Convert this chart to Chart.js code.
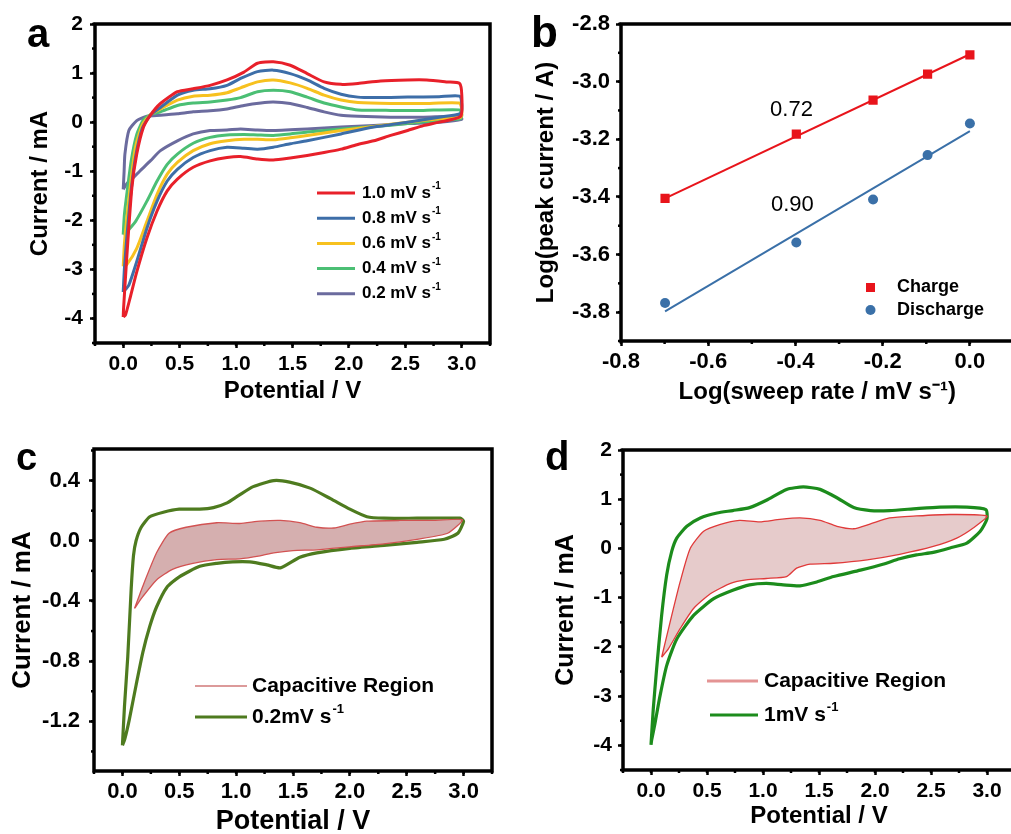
<!DOCTYPE html>
<html><head><meta charset="utf-8">
<script src="https://cdn.jsdelivr.net/npm/chart.js@4.4.1/dist/chart.umd.min.js"></script>
<style>
html,body{margin:0;padding:0;background:#fff;overflow:hidden;width:1011px;height:834px;position:relative;}
canvas{position:absolute;}
</style></head><body>
<canvas id="ca" width="500" height="420" style="left:0;top:0;width:500px;height:420px"></canvas>
<canvas id="cb" width="520" height="420" style="left:500px;top:0;width:520px;height:420px"></canvas>
<canvas id="cc" width="500" height="440" style="left:0;top:420px;width:500px;height:440px"></canvas>
<canvas id="cd" width="520" height="414" style="left:500px;top:420px;width:520px;height:414px"></canvas>
<script>
// ---------- tick labels ----------
const potTicks = [0, 0.5, 1.0, 1.5, 2.0, 2.5, 3.0];
const aYTicks = [-4, -3, -2, -1, 0, 1, 2];
const bXTicks = [-0.8, -0.6, -0.4, -0.2, 0.0];
const bYTicks = [-3.8, -3.6, -3.4, -3.2, -3.0, -2.8];
const cYTicks = [-1.2, -0.8, -0.4, 0.0, 0.4];
const dYTicks = [-4, -3, -2, -1, 0, 1, 2];

// ---------- Panel a: CV curves at different sweep rates (Potential V, Current mA) ----------
const aRates = ['1.0', '0.8', '0.6', '0.4', '0.2'];
const aColors = ['#e8202a', '#3d6ea8', '#f7c11f', '#4bbf74', '#6b6b9e'];
const cv10 = [[0,-3.97],[0.003,-3.8],[0.033,-2.7],[0.077,-1.33],[0.12,-0.65],[0.18,-0.1],[0.24,0.14],[0.33,0.38],[0.48,0.62],[0.62,0.68],[0.77,0.75],[0.92,0.86],[1.07,1.02],[1.19,1.2],[1.33,1.23],[1.48,1.16],[1.63,0.99],[1.78,0.82],[1.93,0.77],[2.08,0.79],[2.28,0.84],[2.52,0.86],[2.69,0.86],[2.87,0.82],[2.98,0.79],[3.0,0.55],[2.99,0.12],[2.8,0.0],[2.66,-0.07],[2.52,-0.17],[2.37,-0.27],[2.22,-0.38],[2.07,-0.46],[1.93,-0.55],[1.78,-0.62],[1.63,-0.68],[1.48,-0.73],[1.33,-0.77],[1.19,-0.75],[1.04,-0.7],[0.92,-0.72],[0.77,-0.79],[0.62,-0.92],[0.48,-1.16],[0.39,-1.4],[0.3,-1.81],[0.21,-2.36],[0.12,-3.05],[0.06,-3.59],[0.02,-3.93],[0,-3.97]];
const cv08 = [[0,-3.46],[0.01,-3.0],[0.03,-2.4],[0.07,-1.4],[0.11,-0.7],[0.17,-0.12],[0.24,0.14],[0.33,0.3],[0.48,0.55],[0.62,0.65],[0.77,0.68],[0.92,0.75],[1.04,0.89],[1.19,1.03],[1.33,1.06],[1.48,0.99],[1.63,0.86],[1.78,0.69],[1.93,0.57],[2.08,0.51],[2.22,0.5],[2.52,0.51],[2.8,0.52],[2.98,0.53],[3.0,0.35],[2.99,0.18],[2.8,0.1],[2.52,0.0],[2.22,-0.1],[1.93,-0.24],[1.63,-0.38],[1.48,-0.44],[1.33,-0.51],[1.19,-0.55],[1.07,-0.53],[0.92,-0.51],[0.77,-0.58],[0.62,-0.72],[0.48,-0.96],[0.39,-1.2],[0.3,-1.61],[0.21,-2.16],[0.12,-2.84],[0.05,-3.32],[0,-3.46]];
const cv06 = [[0,-2.94],[0.01,-2.5],[0.03,-2.0],[0.07,-1.15],[0.11,-0.5],[0.17,-0.05],[0.24,0.15],[0.33,0.27],[0.48,0.45],[0.62,0.53],[0.77,0.55],[0.92,0.6],[1.04,0.7],[1.19,0.82],[1.33,0.86],[1.48,0.8],[1.63,0.69],[1.78,0.55],[1.93,0.45],[2.08,0.4],[2.37,0.38],[2.66,0.38],[2.98,0.39],[3.0,0.25],[2.99,0.1],[2.8,0.07],[2.52,0.0],[2.22,-0.09],[1.93,-0.17],[1.63,-0.27],[1.48,-0.32],[1.33,-0.36],[1.19,-0.35],[1.07,-0.35],[0.92,-0.38],[0.77,-0.44],[0.62,-0.58],[0.48,-0.82],[0.39,-1.06],[0.3,-1.47],[0.21,-2.02],[0.12,-2.57],[0.03,-2.91],[0,-2.94]];
const cv04 = [[0,-2.29],[0.01,-1.9],[0.03,-1.5],[0.07,-0.8],[0.12,-0.25],[0.18,0.05],[0.24,0.15],[0.33,0.21],[0.48,0.34],[0.62,0.39],[0.77,0.41],[0.92,0.45],[1.04,0.5],[1.19,0.62],[1.33,0.65],[1.48,0.62],[1.63,0.51],[1.78,0.39],[1.93,0.31],[2.08,0.25],[2.37,0.24],[2.66,0.24],[2.98,0.25],[3.0,0.15],[2.99,0.07],[2.8,0.04],[2.52,-0.03],[2.22,-0.09],[1.93,-0.14],[1.63,-0.2],[1.48,-0.24],[1.33,-0.27],[1.19,-0.26],[1.07,-0.25],[0.92,-0.26],[0.77,-0.31],[0.62,-0.43],[0.48,-0.65],[0.39,-0.86],[0.3,-1.2],[0.21,-1.61],[0.11,-2.02],[0.02,-2.26],[0,-2.29]];
const cv02 = [[0,-1.37],[0.008,-1.0],[0.015,-0.65],[0.05,-0.17],[0.12,0.03],[0.21,0.12],[0.33,0.14],[0.48,0.17],[0.62,0.21],[0.77,0.23],[0.92,0.27],[1.07,0.34],[1.22,0.39],[1.33,0.41],[1.48,0.38],[1.63,0.3],[1.78,0.21],[1.93,0.14],[2.08,0.12],[2.37,0.1],[2.66,0.1],[2.98,0.12],[3.0,0.06],[2.8,0.0],[2.52,-0.03],[2.22,-0.07],[1.93,-0.1],[1.63,-0.14],[1.33,-0.17],[1.19,-0.16],[1.04,-0.14],[0.92,-0.16],[0.77,-0.17],[0.62,-0.24],[0.48,-0.38],[0.33,-0.58],[0.24,-0.79],[0.15,-0.99],[0.09,-1.13],[0.03,-1.26],[0,-1.37]];
const aCurves = [cv10, cv08, cv06, cv04, cv02];

// ---------- Panel b: log(peak current) vs log(sweep rate) ----------
const bLogRate = [-0.699, -0.398, -0.222, -0.097, 0.0];
const bCharge = [-3.405, -3.182, -3.064, -2.974, -2.907];
const bDischarge = [-3.768, -3.558, -3.409, -3.255, -3.145];
const bFitCharge = [[-0.699, -3.405], [0.0, -2.905]];
const bFitDischarge = [[-0.699, -3.797], [0.0, -3.172]];
const bSlopes = [['0.72', -0.409, -3.099], ['0.90', -0.407, -3.428]];

// ---------- Panel c: 0.2 mV/s CV with capacitive region ----------
const cCV = [[0,-1.36],[0.018,-1.1],[0.047,-0.77],[0.077,-0.32],[0.097,-0.1],[0.12,0.0],[0.165,0.09],[0.24,0.16],[0.36,0.19],[0.5,0.21],[0.68,0.21],[0.8,0.22],[0.915,0.25],[1.02,0.3],[1.15,0.36],[1.33,0.4],[1.47,0.39],[1.65,0.35],[1.83,0.28],[2.0,0.21],[2.15,0.16],[2.3,0.15],[2.59,0.15],[2.97,0.15],[3.0,0.13],[2.95,0.05],[2.83,0.01],[2.59,-0.01],[2.3,-0.03],[2.0,-0.05],[1.71,-0.08],[1.56,-0.11],[1.39,-0.18],[1.27,-0.16],[1.12,-0.14],[0.97,-0.14],[0.83,-0.15],[0.68,-0.17],[0.5,-0.24],[0.39,-0.31],[0.3,-0.44],[0.24,-0.57],[0.18,-0.74],[0.12,-0.96],[0.06,-1.19],[0.02,-1.32],[0,-1.36]];
const cCap = [[0.106,-0.45],[0.18,-0.3],[0.3,-0.08],[0.41,0.05],[0.56,0.09],[0.83,0.12],[1.03,0.115],[1.21,0.13],[1.39,0.135],[1.56,0.12],[1.71,0.09],[1.86,0.085],[2.0,0.11],[2.15,0.13],[2.44,0.135],[2.74,0.135],[2.99,0.14],[2.86,0.05],[2.59,0.01],[2.3,-0.02],[2.0,-0.04],[1.71,-0.06],[1.5,-0.065],[1.33,-0.08],[1.21,-0.1],[1.03,-0.12],[0.83,-0.125],[0.62,-0.15],[0.44,-0.19],[0.3,-0.26],[0.18,-0.37],[0.106,-0.45]];

// ---------- Panel d: 1 mV/s CV with capacitive region ----------
const dCV = [[0,-3.99],[0.02,-3.27],[0.05,-2.45],[0.095,-1.36],[0.14,-0.54],[0.185,-0.06],[0.23,0.21],[0.32,0.45],[0.44,0.62],[0.59,0.72],[0.73,0.77],[0.88,0.83],[1.03,0.98],[1.21,1.2],[1.36,1.25],[1.51,1.2],[1.66,1.03],[1.81,0.83],[1.96,0.77],[2.13,0.77],[2.37,0.81],[2.58,0.84],[2.82,0.84],[2.99,0.79],[3.0,0.6],[2.94,0.35],[2.82,0.11],[2.67,0.01],[2.52,-0.08],[2.37,-0.13],[2.22,-0.21],[2.07,-0.32],[1.87,-0.44],[1.63,-0.57],[1.48,-0.68],[1.33,-0.76],[1.18,-0.74],[1.03,-0.71],[0.88,-0.74],[0.73,-0.85],[0.56,-1.02],[0.38,-1.36],[0.23,-1.84],[0.14,-2.38],[0.08,-3.0],[0.036,-3.55],[0.006,-3.89],[0,-3.99]];
const dCap = [[0.095,-2.21],[0.17,-1.5],[0.26,-0.68],[0.35,0.0],[0.47,0.35],[0.62,0.49],[0.79,0.57],[0.97,0.54],[1.15,0.59],[1.33,0.62],[1.51,0.57],[1.66,0.45],[1.81,0.4],[1.96,0.5],[2.13,0.62],[2.37,0.66],[2.67,0.69],[3.0,0.66],[2.88,0.42],[2.73,0.21],[2.52,0.04],[2.22,-0.12],[1.93,-0.23],[1.63,-0.3],[1.42,-0.32],[1.3,-0.4],[1.21,-0.57],[1.03,-0.61],[0.85,-0.64],[0.71,-0.71],[0.53,-0.92],[0.38,-1.22],[0.26,-1.63],[0.155,-2.04],[0.095,-2.21]];

// ---------- helpers ----------
const FONT = '"Liberation Sans", Arial, Helvetica, sans-serif';
Chart.defaults.font.family = FONT;
Chart.defaults.color = '#000';
const pts = arr => arr.map(p => ({x: p[0], y: p[1]}));
const fmt = (v, d) => (Math.abs(v) < 1e-9 ? 0 : v).toFixed(d);

const minorTicks = {
  id: 'minorTicks',
  afterDraw(chart, args, o) {
    const {ctx, chartArea: a, scales: {x, y}} = chart;
    ctx.save(); ctx.strokeStyle = '#000'; ctx.lineWidth = 2.5;
    const L = 3;
    if (o && o.x) for (let k = Math.ceil(x.min / o.x - 1e-9); k * o.x <= x.max + 1e-9; k++) {
      const p = x.getPixelForValue(k * o.x);
      ctx.beginPath(); ctx.moveTo(p, a.bottom); ctx.lineTo(p, a.bottom + L); ctx.stroke();
    }
    if (o && o.y) for (let k = Math.ceil(y.min / o.y - 1e-9); k * o.y <= y.max + 1e-9; k++) {
      const p = y.getPixelForValue(k * o.y);
      ctx.beginPath(); ctx.moveTo(a.left, p); ctx.lineTo(a.left - L, p); ctx.stroke();
    }
    ctx.restore();
  }
};
const frame = {
  id: 'frame',
  afterDraw(chart) {
    const {ctx, chartArea: a} = chart;
    ctx.save(); ctx.strokeStyle = '#000'; ctx.lineWidth = 3.5;
    ctx.strokeRect(a.left, a.top, a.right - a.left, a.bottom - a.top);
    ctx.restore();
  }
};
function supText(ctx, main, sup, x, y, size) {
  ctx.font = 'bold ' + size + 'px ' + FONT;
  ctx.textAlign = 'left'; ctx.textBaseline = 'middle';
  ctx.fillText(main, x, y);
  const w = ctx.measureText(main).width;
  if (sup) {
    ctx.font = 'bold ' + Math.round(size * 0.6) + 'px ' + FONT;
    ctx.fillText(sup, x + w + 1, y - size * 0.38);
  }
}
function letter(ctx, t, x, y, size) {
  ctx.save(); ctx.fillStyle = '#000';
  ctx.font = 'bold ' + size + 'px ' + FONT;
  ctx.textAlign = 'left'; ctx.textBaseline = 'alphabetic';
  ctx.fillText(t, x, y); ctx.restore();
}

function panel(id, P) {
  return new Chart(document.getElementById(id), {
    type: 'scatter',
    data: {datasets: P.datasets},
    options: {
      responsive: false, animation: false, devicePixelRatio: 1,
      layout: {padding: {left: 0, top: P.area.t, right: P.W - P.area.r, bottom: 0}},
      plugins: {legend: {display: false}, tooltip: {enabled: false}, minorTicks: P.minor},
      elements: {line: {tension: 0.2}},
      scales: {
        x: {
          type: 'linear', position: 'bottom', min: P.x.min, max: P.x.max,
          afterBuildTicks(s) { s.ticks = P.x.ticks.map(v => ({value: v})); },
          afterFit(s) { s.height = P.H - P.area.b; },
          border: {display: false},
          grid: {drawOnChartArea: false, tickLength: 5, tickWidth: 2.5, tickColor: '#000'},
          ticks: {padding: P.x.pad, color: '#000', autoSkip: false, maxRotation: 0,
                  font: {size: P.x.size, weight: 'bold'}, callback: v => fmt(v, P.x.dec)},
          title: {display: true, text: P.x.title, color: '#000', font: {size: P.x.tsize, weight: 'bold'}, padding: {top: 0, bottom: P.x.tpad}}
        },
        y: {
          type: 'linear', position: 'left', min: P.y.min, max: P.y.max,
          afterBuildTicks(s) { s.ticks = P.y.ticks.map(v => ({value: v})); },
          afterFit(s) { s.width = P.area.l; },
          border: {display: false},
          grid: {drawOnChartArea: false, tickLength: 5, tickWidth: 2.5, tickColor: '#000'},
          ticks: {padding: P.y.pad, color: '#000', autoSkip: false,
                  font: {size: P.y.size, weight: 'bold'}, callback: v => fmt(v, P.y.dec)},
          title: {display: true, text: P.y.title, color: '#000', font: {size: P.y.tsize, weight: 'bold'}, padding: {top: P.y.tpad, bottom: 0}}
        }
      }
    },
    plugins: [minorTicks, frame, {id: 'deco', afterDraw: c => P.deco(c.ctx, c)}]
  });
}

// ---------- Panel a ----------
panel('ca', {
  W: 500, H: 420, area: {l: 95, t: 24, r: 490, b: 343},
  x: {min: -0.25, max: 3.25, ticks: potTicks, dec: 1, size: 21, pad: 4, title: 'Potential / V', tsize: 24, tpad: 14},
  y: {min: -4.5, max: 2, ticks: aYTicks, dec: 0, size: 21, pad: 7, title: 'Current / mA', tsize: 24, tpad: 26},
  minor: {x: 0.25, y: 0.5},
  datasets: aCurves.map((c, i) => ({label: aRates[i] + ' mV s-1', data: pts(c), showLine: true, pointRadius: 0,
    borderColor: aColors[i], borderWidth: 3, fill: false})),
  deco(ctx) {
    letter(ctx, 'a', 27, 47, 40);
    ctx.save();
    aRates.forEach((r, i) => {
      const y = 193 + i * 25.2;
      ctx.strokeStyle = aColors[i]; ctx.lineWidth = 3;
      ctx.beginPath(); ctx.moveTo(317, y); ctx.lineTo(355, y); ctx.stroke();
      ctx.fillStyle = '#000';
      supText(ctx, r + ' mV s', '-1', 362, y, 17);
    });
    ctx.restore();
  }
});

// ---------- Panel b ----------
panel('cb', {
  W: 520, H: 420, area: {l: 121, t: 24, r: 515, b: 341},
  x: {min: -0.8, max: 0.1, ticks: bXTicks, dec: 1, size: 22, pad: 3, title: 'Log(sweep rate / mV s\u207B\u00B9)', tsize: 24, tpad: 13},
  y: {min: -3.9, max: -2.8, ticks: bYTicks, dec: 1, size: 22, pad: 6, title: 'Log(peak current / A)', tsize: 24, tpad: 32},
  minor: {x: 0.1, y: 0.1},
  datasets: [
    {label: 'Charge', data: bLogRate.map((x, i) => ({x, y: bCharge[i]})), pointStyle: 'rect', pointRadius: 6.5,
     backgroundColor: '#e8141b', borderColor: '#e8141b', borderWidth: 0},
    {label: 'Discharge', data: bLogRate.map((x, i) => ({x, y: bDischarge[i]})), pointStyle: 'circle', pointRadius: 5,
     backgroundColor: '#3a70a8', borderColor: '#3a70a8', borderWidth: 0},
    {label: 'fitC', data: pts(bFitCharge), showLine: true, pointRadius: 0, borderColor: '#e8141b', borderWidth: 2, tension: 0},
    {label: 'fitD', data: pts(bFitDischarge), showLine: true, pointRadius: 0, borderColor: '#3a70a8', borderWidth: 2, tension: 0}
  ],
  deco(ctx, chart) {
    letter(ctx, 'b', 31, 47, 44);
    const {x, y} = chart.scales;
    ctx.save();
    ctx.fillStyle = '#000'; ctx.font = '22px ' + FONT; ctx.textAlign = 'center'; ctx.textBaseline = 'middle';
    bSlopes.forEach(s => ctx.fillText(s[0], x.getPixelForValue(s[1]), y.getPixelForValue(s[2])));
    ctx.fillStyle = '#e8141b'; ctx.fillRect(366, 283, 9, 9);
    ctx.fillStyle = '#3a70a8'; ctx.beginPath(); ctx.arc(370.5, 310, 5, 0, Math.PI * 2); ctx.fill();
    ctx.fillStyle = '#000';
    supText(ctx, 'Charge', '', 397, 287, 18);
    supText(ctx, 'Discharge', '', 397, 310, 18);
    ctx.restore();
  }
});

// ---------- Panel c ----------
panel('cc', {
  W: 500, H: 440, area: {l: 94, t: 29, r: 492, b: 351},
  x: {min: -0.25, max: 3.25, ticks: potTicks, dec: 1, size: 22, pad: 3, title: 'Potential / V', tsize: 27, tpad: 22},
  y: {min: -1.53, max: 0.61, ticks: cYTicks, dec: 1, size: 22, pad: 9, title: 'Current / mA', tsize: 26, tpad: 7},
  minor: {x: 0.25, y: 0.2},
  datasets: [
    {label: 'Capacitive Region', data: pts(cCap), showLine: true, pointRadius: 0, borderColor: '#d25252', borderWidth: 1.3,
     backgroundColor: 'rgba(172,96,96,0.5)', fill: 'shape'},
    {label: '0.2mV s-1', data: pts(cCV), showLine: true, pointRadius: 0, borderColor: '#4e7b1f', borderWidth: 3.2, fill: false}
  ],
  deco(ctx) {
    letter(ctx, 'c', 16, 50, 38);
    ctx.save();
    ctx.strokeStyle = '#dc9a9a'; ctx.lineWidth = 2;
    ctx.beginPath(); ctx.moveTo(195, 266); ctx.lineTo(247, 266); ctx.stroke();
    ctx.strokeStyle = '#4e7b1f'; ctx.lineWidth = 3.2;
    ctx.beginPath(); ctx.moveTo(195, 297); ctx.lineTo(247, 297); ctx.stroke();
    ctx.fillStyle = '#000';
    supText(ctx, 'Capacitive Region', '', 252, 266, 21);
    supText(ctx, '0.2mV s', '-1', 252, 297, 21);
    ctx.restore();
  }
});

// ---------- Panel d ----------
panel('cd', {
  W: 520, H: 414, area: {l: 123, t: 30, r: 515, b: 350},
  x: {min: -0.25, max: 3.25, ticks: potTicks, dec: 1, size: 21, pad: 4, title: 'Potential / V', tsize: 24, tpad: 3},
  y: {min: -4.5, max: 2, ticks: dYTicks, dec: 0, size: 21, pad: 6, title: 'Current / mA', tsize: 25, tpad: 51},
  minor: {x: 0.25, y: 0.5},
  datasets: [
    {label: 'Capacitive Region', data: pts(dCap), showLine: true, pointRadius: 0, borderColor: '#e03a3a', borderWidth: 1.3,
     backgroundColor: 'rgba(200,140,140,0.45)', fill: 'shape'},
    {label: '1mV s-1', data: pts(dCV), showLine: true, pointRadius: 0, borderColor: '#1c8c1c', borderWidth: 3.2, fill: false}
  ],
  deco(ctx) {
    letter(ctx, 'd', 45, 50, 40);
    ctx.save();
    ctx.strokeStyle = '#e49494'; ctx.lineWidth = 3;
    ctx.beginPath(); ctx.moveTo(207, 261); ctx.lineTo(258, 261); ctx.stroke();
    ctx.strokeStyle = '#1c8c1c'; ctx.lineWidth = 3.2;
    ctx.beginPath(); ctx.moveTo(210, 295); ctx.lineTo(258, 295); ctx.stroke();
    ctx.fillStyle = '#000';
    supText(ctx, 'Capacitive Region', '', 264, 261, 21);
    supText(ctx, '1mV s', '-1', 264, 295, 21);
    ctx.restore();
  }
});
</script>
</body></html>
